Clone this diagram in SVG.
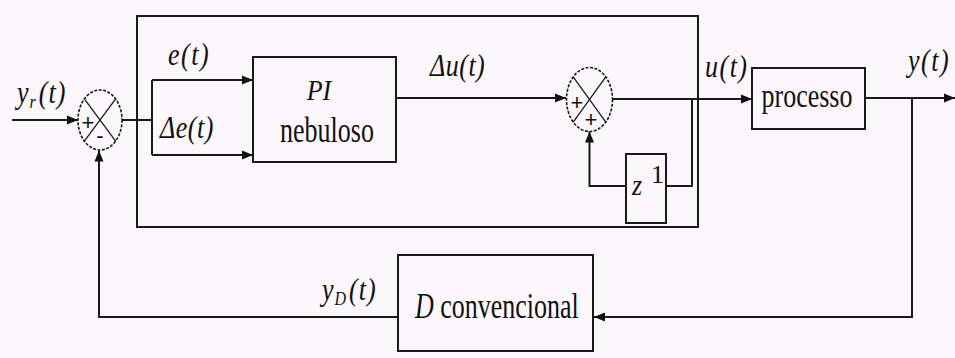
<svg xmlns="http://www.w3.org/2000/svg" width="955" height="358" viewBox="0 0 955 358">
<defs>
<marker id="arr" markerWidth="12" markerHeight="10" refX="11" refY="5" orient="auto" markerUnits="userSpaceOnUse">
<path d="M0,0.5 L11,5 L0,9.5 Z" fill="#111"/>
</marker>
<style>
.ln{fill:none;stroke:#1a1a1a;stroke-width:2}
.bx{fill:none;stroke:#1a1a1a;stroke-width:2}
.sj{fill:none;stroke:#1a1a1a;stroke-width:1.6;stroke-dasharray:3 1.5}
.xl{stroke:#1a1a1a;stroke-width:1.3}
text{font-family:'Liberation Serif','Times New Roman',Times,serif;font-size:26px;fill:#111}
.i{font-style:italic}
.s{font-family:'Liberation Sans',Arial,sans-serif;font-size:22px;fill:#111}
</style>
</defs>
<rect width="955" height="358" fill="#fcf7fc"/>

<g id="controller-box">
<rect x="137" y="16" width="561" height="211" class="bx"/>
</g>

<g id="sum1">
<ellipse cx="100" cy="120" rx="22" ry="30" class="sj"/>
<line x1="84.4" y1="98.8" x2="115.6" y2="141.2" class="xl"/>
<line x1="115.6" y1="98.8" x2="84.4" y2="141.2" class="xl"/>
<text x="88" y="130" class="s" text-anchor="middle">+</text>
<text x="100" y="143" class="s" text-anchor="middle">-</text>
</g>

<g id="pi">
<rect x="253" y="57" width="143" height="105" class="bx"/>
<text class="i" transform="translate(319 100) scale(1 1.15)" text-anchor="middle" font-size="28">PI</text>
<text transform="translate(327 142) scale(1 1.35)" text-anchor="middle">nebuloso</text>
</g>

<g id="sum2">
<ellipse cx="589.5" cy="99.5" rx="23" ry="32" class="sj"/>
<line x1="573.2" y1="76.9" x2="605.8" y2="122.1" class="xl"/>
<line x1="605.8" y1="76.9" x2="573.2" y2="122.1" class="xl"/>
<text x="577" y="110" class="s" text-anchor="middle">+</text>
<text x="591" y="127" class="s" text-anchor="middle">+</text>
</g>

<g id="delay">
<rect x="626" y="154" width="40" height="69" class="bx"/>
<text class="i" transform="translate(632 195) scale(1 1.15)">z</text>
<text x="651" y="183" font-size="17">1</text>
</g>

<g id="processo">
<rect x="752" y="68" width="113" height="61" class="bx"/>
<text transform="translate(807 107) scale(1 1.3)" text-anchor="middle">processo</text>
</g>

<g id="d-conv">
<rect x="398" y="255" width="195" height="96" class="bx"/>
<text transform="translate(415 318) scale(1 1.35)"><tspan font-style="italic">D</tspan> convencional</text>
</g>

<g id="connectors">
<path d="M12,120 H78" class="ln" marker-end="url(#arr)"/>
<path d="M122,120 H152" class="ln"/>
<path d="M152,80 V155" class="ln"/>
<path d="M152,80 H253" class="ln" marker-end="url(#arr)"/>
<path d="M152,155 H253" class="ln" marker-end="url(#arr)"/>
<path d="M396,98 H566" class="ln" marker-end="url(#arr)"/>
<path d="M612.5,99 H752" class="ln" marker-end="url(#arr)"/>
<path d="M692,99 V186 H666" class="ln"/>
<path d="M626,186 H589.5 V131.5" class="ln" marker-end="url(#arr)"/>
<path d="M865,98 H955" class="ln" marker-end="url(#arr)"/>
<path d="M912,98 V317 H594" class="ln" marker-end="url(#arr)"/>
<path d="M398,317 H99 V150.5" class="ln" marker-end="url(#arr)"/>
</g>

<g id="labels">
<text class="i" transform="translate(17 103) scale(1 1.2)" letter-spacing="1">y<tspan font-size="16" dy="4">r</tspan><tspan dy="-4" dx="2">(t)</tspan></text>
<text class="i" transform="translate(168 65) scale(1 1.2)" letter-spacing="1.5">e(t)</text>
<text class="i" transform="translate(160 138) scale(1 1.2)" letter-spacing="0.5">Δe(t)</text>
<text class="i" transform="translate(430 76) scale(1 1.2)" letter-spacing="0.5">Δu(t)</text>
<text class="i" transform="translate(705 77) scale(1 1.2)" letter-spacing="1.5">u(t)</text>
<text class="i" transform="translate(908 71) scale(1 1.2)" letter-spacing="1.5">y(t)</text>
<text class="i" transform="translate(322 300) scale(1 1.2)" letter-spacing="1">y<tspan font-size="16" dy="4">D</tspan><tspan dy="-4" dx="2">(t)</tspan></text>
</g>
</svg>
